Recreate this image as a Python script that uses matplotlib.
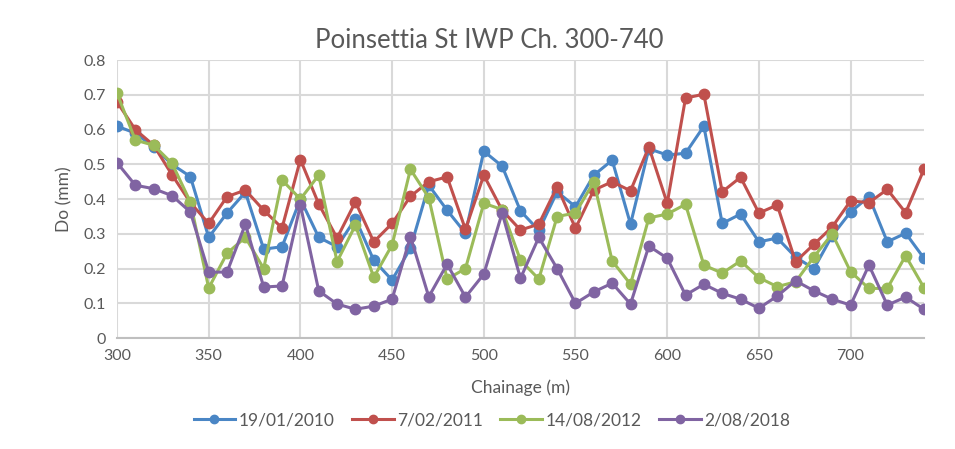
import matplotlib
matplotlib.use("Agg")
import matplotlib.pyplot as plt
import numpy as np

# chainage (m)
chainage = list(range(300, 741, 10))

# Do (mm) per survey date
do_2010 = [0.61, 0.59, 0.55, 0.50, 0.465, 0.29, 0.36, 0.42, 0.256, 0.263,
           0.40, 0.29, 0.263, 0.344, 0.224, 0.167, 0.259, 0.44, 0.368, 0.302,
           0.538, 0.495, 0.366, 0.31, 0.421, 0.378, 0.469, 0.512, 0.328, 0.545,
           0.527, 0.532, 0.61, 0.33, 0.357, 0.277, 0.288, 0.233, 0.20, 0.295,
           0.363, 0.407, 0.277, 0.302, 0.23]
do_2011 = [0.68, 0.60, 0.555, 0.47, 0.39, 0.33, 0.407, 0.426, 0.368, 0.317,
           0.514, 0.386, 0.288, 0.392, 0.277, 0.33, 0.408, 0.45, 0.464, 0.313,
           0.469, 0.368, 0.311, 0.328, 0.436, 0.316, 0.426, 0.45, 0.424, 0.55,
           0.388, 0.691, 0.702, 0.421, 0.463, 0.36, 0.383, 0.22, 0.27, 0.32,
           0.395, 0.39, 0.428, 0.361, 0.486]
do_2012 = [0.705, 0.57, 0.555, 0.503, 0.392, 0.144, 0.244, 0.29, 0.20, 0.455,
           0.40, 0.469, 0.22, 0.325, 0.175, 0.268, 0.486, 0.404, 0.17, 0.20,
           0.388, 0.37, 0.224, 0.17, 0.35, 0.36, 0.45, 0.222, 0.155, 0.346,
           0.357, 0.385, 0.21, 0.187, 0.222, 0.174, 0.148, 0.162, 0.234, 0.30,
           0.191, 0.143, 0.143, 0.237, 0.145]
do_2018 = [0.505, 0.44, 0.43, 0.41, 0.363, 0.19, 0.19, 0.328, 0.147, 0.15,
           0.383, 0.136, 0.098, 0.083, 0.092, 0.112, 0.292, 0.119, 0.213, 0.118,
           0.184, 0.36, 0.172, 0.29, 0.20, 0.10, 0.133, 0.158, 0.098, 0.265,
           0.23, 0.124, 0.155, 0.129, 0.112, 0.086, 0.121, 0.165, 0.136, 0.112,
           0.095, 0.21, 0.095, 0.118, 0.083]

labels = ["19/01/2010", "7/02/2011", "14/08/2012", "2/08/2018"]
colors = ["#4a86c5", "#c0504d", "#9bbb59", "#8064a2"]

plt.rcParams["font.family"] = ["Lato", "DejaVu Sans"]

fig = plt.figure(figsize=(9.55, 4.49), dpi=100)
ax = fig.add_axes([0.1225, 0.247, 0.845, 0.619])

for series, lab, col in zip([do_2010, do_2011, do_2012, do_2018], labels, colors):
    ax.plot(chainage, series, color=col, lw=2.2, marker="o", ms=7.5,
            label=lab, solid_joinstyle="round")

ax.set_xlim(300, 740)
ax.set_ylim(0, 0.8)
ax.set_xticks(np.arange(300, 701, 50))
ax.set_yticks(np.arange(0, 0.81, 0.1))
ax.set_yticklabels(["0", "0.1", "0.2", "0.3", "0.4", "0.5", "0.6", "0.7", "0.8"])
ax.grid(True, color="#d9d9d9", lw=1.5)
ax.set_axisbelow(True)
for s in ["top", "right", "left"]:
    ax.spines[s].set_visible(False)
ax.spines["bottom"].set_color("#bfbfbf")
ax.spines["bottom"].set_linewidth(1.5)
ax.tick_params(length=0, labelsize=11.5, colors="#595959", pad=8)

# title is centred on the whole chart, not on the plot area
fig.text(0.512, 0.91, "Poinsettia St IWP Ch. 300-740", fontsize=18.5,
         color="#595959", ha="center", va="center")
ax.set_xlabel("Chainage (m)", fontsize=12.5, color="#595959", labelpad=12)
ax.set_ylabel("Do (mm)", fontsize=12.5, color="#595959", labelpad=8)

fig.legend(loc="center", bbox_to_anchor=(0.515, 0.064), ncol=4, frameon=False,
           fontsize=12.5, labelcolor="#595959", handlelength=2.4, columnspacing=1.0,
           handletextpad=0.2, markerscale=0.8)

fig.savefig("out.png", dpi=100, facecolor="white")
